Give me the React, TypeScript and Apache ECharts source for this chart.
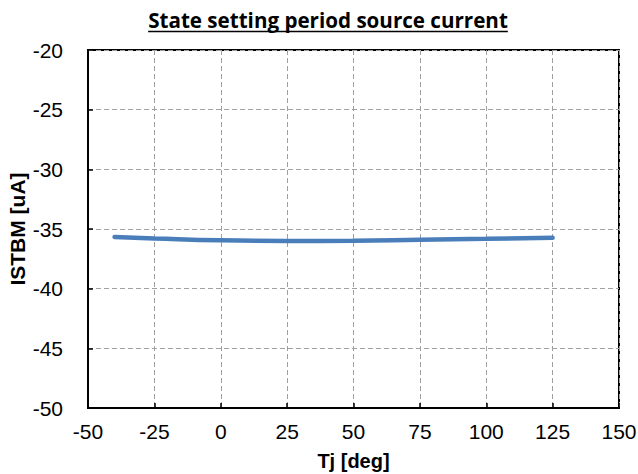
import React, { useEffect, useRef } from "react";
import * as echarts from "echarts";

const titleText = "State setting period source current";
const xName = "Tj [deg]";
const yName = "ISTBM [uA]";
const tempC = [-40, -25, 0, 25, 50, 75, 100, 125];
const istbm = [-35.67, -35.79, -35.95, -36.0, -35.98, -35.9, -35.82, -35.73];

const TITLE_FONT = "bold 20.6px 'Open Sans'";

function measure(text: string, font: string): number {
  const c = document.createElement("canvas").getContext("2d");
  if (!c) return text.length * 10;
  c.font = font;
  return c.measureText(text).width;
}

export default function App() {
  const ref = useRef<HTMLDivElement>(null);
  useEffect(() => {
    if (!ref.current) return;
    const chart = echarts.init(ref.current, undefined, { renderer: "svg" });
    const tw = measure(titleText, TITLE_FONT);
    const tcx = 328;
    const axisFont = "Liberation Sans";
    chart.setOption({
      animation: false,
      backgroundColor: "#ffffff",
      graphic: [
        {
          type: "text",
          x: tcx,
          y: 20,
          style: {
            text: titleText,
            font: TITLE_FONT,
            fill: "#000",
            align: "center",
            verticalAlign: "middle",
          },
        },
        {
          type: "line",
          shape: { x1: tcx - tw / 2, y1: 31.5, x2: tcx + tw / 2, y2: 31.5 },
          style: { stroke: "#000", lineWidth: 1.5 },
        },
      ],
      grid: {
        left: 88,
        right: 19,
        top: 50,
        bottom: 66,
        containLabel: false,
        outerBoundsMode: "none",
        show: true,
        borderColor: "#000",
        borderWidth: 2,
        backgroundColor: "#fff",
      },
      xAxis: {
        type: "value",
        min: -50,
        max: 150,
        interval: 25,
        name: xName,
        nameLocation: "middle",
        nameGap: 43,
        nameMoveOverlap: false,
        nameTextStyle: { fontFamily: axisFont, fontWeight: "bold", fontSize: 20, color: "#000" },
        axisLine: { show: true, onZero: false, lineStyle: { color: "#000", width: 2 } },
        axisTick: { show: true, inside: true, length: 5, lineStyle: { color: "#000", width: 1.5 } },
        axisLabel: { fontFamily: axisFont, fontSize: 21, color: "#000", margin: 13 },
        splitLine: { show: true, lineStyle: { color: "#a0a0a0", type: [5, 3], width: 1 } },
      },
      yAxis: {
        type: "value",
        min: -50,
        max: -20,
        interval: 5,
        name: yName,
        nameLocation: "middle",
        nameGap: 60,
        nameMoveOverlap: false,
        nameTextStyle: { fontFamily: axisFont, fontWeight: "bold", fontSize: 21, color: "#000" },
        axisLine: { show: true, onZero: false, lineStyle: { color: "#000", width: 2 } },
        axisTick: { show: true, inside: true, length: 5, lineStyle: { color: "#000", width: 1.5 } },
        axisLabel: { fontFamily: axisFont, fontSize: 21, color: "#000", margin: 25 },
        splitLine: { show: true, lineStyle: { color: "#a0a0a0", type: [5, 3], width: 1 } },
      },
      series: [
        {
          type: "line",
          data: tempC.map((t, i) => [t, istbm[i]]),
          smooth: true,
          showSymbol: false,
          symbol: "none",
          lineStyle: { color: "#4A7EBB", width: 4.5, cap: "round" },
          itemStyle: { color: "#4A7EBB" },
        },
      ],
    });
    return () => chart.dispose();
  }, []);
  return (
    <div
      ref={ref}
      style={{ position: "fixed", left: 0, top: 0, width: 638, height: 474, background: "#fff" }}
    />
  );
}
